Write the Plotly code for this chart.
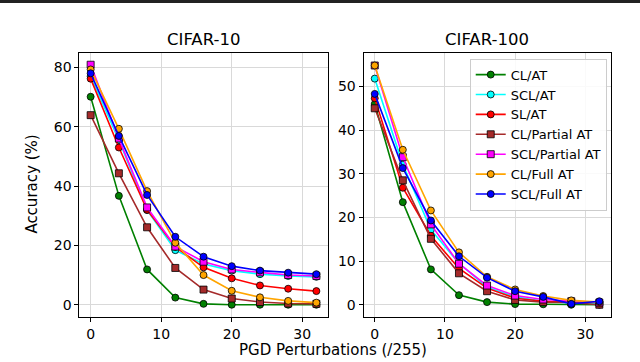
import plotly.graph_objects as go

## Data
# ============================================================================
eps = [0, 4, 8, 12, 16, 20, 24, 28, 32]

names = ['CL/AT', 'SCL/AT', 'SL/AT', 'CL/Partial AT', 'SCL/Partial AT', 'CL/Full AT', 'SCL/Full AT']
colors = ['green', 'cyan', 'red', 'brown', 'magenta', 'orange', 'blue']
symbols = ['circle', 'circle', 'circle', 'square', 'square', 'circle', 'circle']

# CIFAR-10
c10_cl_at = [70.1, 36.7, 11.9, 2.4, 0.3, 0.0, 0.0, 0.0, 0.0]
c10_scl_at = [77.0, 55.5, 31.9, 18.4, 13.7, 11.5, 10.3, 9.7, 9.4]
c10_sl_at = [76.2, 53.0, 32.0, 19.5, 12.6, 8.9, 6.5, 5.4, 4.6]
c10_cl_partial = [63.9, 44.3, 26.1, 12.4, 5.1, 2.1, 0.9, 0.4, 0.3]
c10_scl_partial = [80.9, 56.0, 32.8, 19.6, 14.5, 11.9, 10.9, 10.0, 9.7]
c10_cl_full = [79.3, 59.3, 38.3, 20.9, 10.0, 4.7, 2.5, 1.3, 0.7]
c10_scl_full = [78.0, 56.9, 37.0, 22.9, 16.2, 13.0, 11.5, 10.8, 10.3]

# CIFAR-100
c100_cl_at = [46.0, 23.5, 8.1, 2.2, 0.6, 0.15, 0.1, 0.0, 0.0]
c100_scl_at = [51.8, 32.1, 17.2, 9.5, 4.0, 1.8, 0.8, 0.4, 0.3]
c100_sl_at = [47.3, 26.8, 15.8, 8.3, 3.8, 1.5, 0.8, 0.6, 0.6]
c100_cl_partial = [45.0, 28.5, 15.1, 7.2, 3.1, 1.1, 0.6, 0.5, 0.0]
c100_scl_partial = [54.8, 33.8, 18.4, 9.4, 4.4, 2.1, 1.2, 0.8, 0.5]
c100_cl_full = [54.8, 35.5, 21.6, 12.0, 6.4, 3.5, 2.0, 1.0, 0.6]
c100_scl_full = [48.3, 31.3, 19.3, 11.1, 6.2, 3.1, 1.8, 0.2, 0.8]

cifar10 = [c10_cl_at, c10_scl_at, c10_sl_at, c10_cl_partial, c10_scl_partial, c10_cl_full, c10_scl_full]
cifar100 = [c100_cl_at, c100_scl_at, c100_sl_at, c100_cl_partial, c100_scl_partial, c100_cl_full, c100_scl_full]

## Figure
# ============================================================================
fig = go.Figure()

for i in range(len(names)):
    for j, (data, xa, ya) in enumerate([(cifar10, 'x', 'y'), (cifar100, 'x2', 'y2')]):
        fig.add_trace(go.Scatter(
            x=eps, y=data[i], xaxis=xa, yaxis=ya,
            mode='lines+markers', name=names[i], showlegend=(j == 1),
            line=dict(color=colors[i], width=1.6),
            marker=dict(symbol=symbols[i], size=7, color=colors[i],
                        line=dict(color='rgba(0,0,0,0.8)', width=1)),
        ))

font = 'DejaVu Sans, sans-serif'
ax = dict(showline=True, mirror=True, linecolor='black', linewidth=1,
          ticks='outside', ticklen=4, tickcolor='black',
          showgrid=True, gridcolor='#d9d9d9', gridwidth=1, zeroline=False,
          tickfont=dict(family=font, size=14, color='black'))

fig.update_layout(
    width=640, height=362,
    margin=dict(l=0, r=0, t=0, b=0),
    paper_bgcolor='white', plot_bgcolor='white',
    font=dict(family=font, color='black'),
    xaxis=dict(ax, domain=[0.124, 0.512], range=[-1.6, 33.6], tickvals=[0, 10, 20, 30], anchor='y'),
    yaxis=dict(ax, domain=[0.125, 0.854], range=[-4.05, 84.9], tickvals=[0, 20, 40, 60, 80], anchor='x'),
    xaxis2=dict(ax, domain=[0.568, 0.954], range=[-1.6, 33.6], tickvals=[0, 10, 20, 30], anchor='y2'),
    yaxis2=dict(ax, domain=[0.125, 0.854], range=[-2.75, 57.7], tickvals=[0, 10, 20, 30, 40, 50], anchor='x2'),
    legend=dict(x=0.948, y=0.838, xanchor='right', yanchor='top',
                bgcolor='rgba(255,255,255,0.85)', bordercolor='#cccccc', borderwidth=1,
                font=dict(family=font, size=13, color='black'), tracegroupgap=0),
    showlegend=True,
)

fig.add_annotation(text='CIFAR-10', x=0.318, y=0.89, xref='paper', yref='paper',
                   showarrow=False, font=dict(size=16.5), xanchor='center', yanchor='middle')
fig.add_annotation(text='CIFAR-100', x=0.761, y=0.89, xref='paper', yref='paper',
                   showarrow=False, font=dict(size=16.5), xanchor='center', yanchor='middle')
fig.add_annotation(text='Accuracy (%)', x=0.05, y=0.49, xref='paper', yref='paper',
                   showarrow=False, textangle=-90, font=dict(size=15), xanchor='center', yanchor='middle')
fig.add_annotation(text='PGD Perturbations (/255)', x=0.52, y=0.033, xref='paper', yref='paper',
                   showarrow=False, font=dict(size=15), xanchor='center', yanchor='middle')

# zwarte balk bovenaan
fig.add_shape(type='rect', xref='paper', yref='paper', x0=0, x1=1, y0=0.992, y1=1,
              fillcolor='#222222', line=dict(width=0))

# body-marge van de browser weghalen, geen modebar
fig.write_html('out.html', config={'displayModeBar': False},
               post_script="document.body.style.margin='0px';")
